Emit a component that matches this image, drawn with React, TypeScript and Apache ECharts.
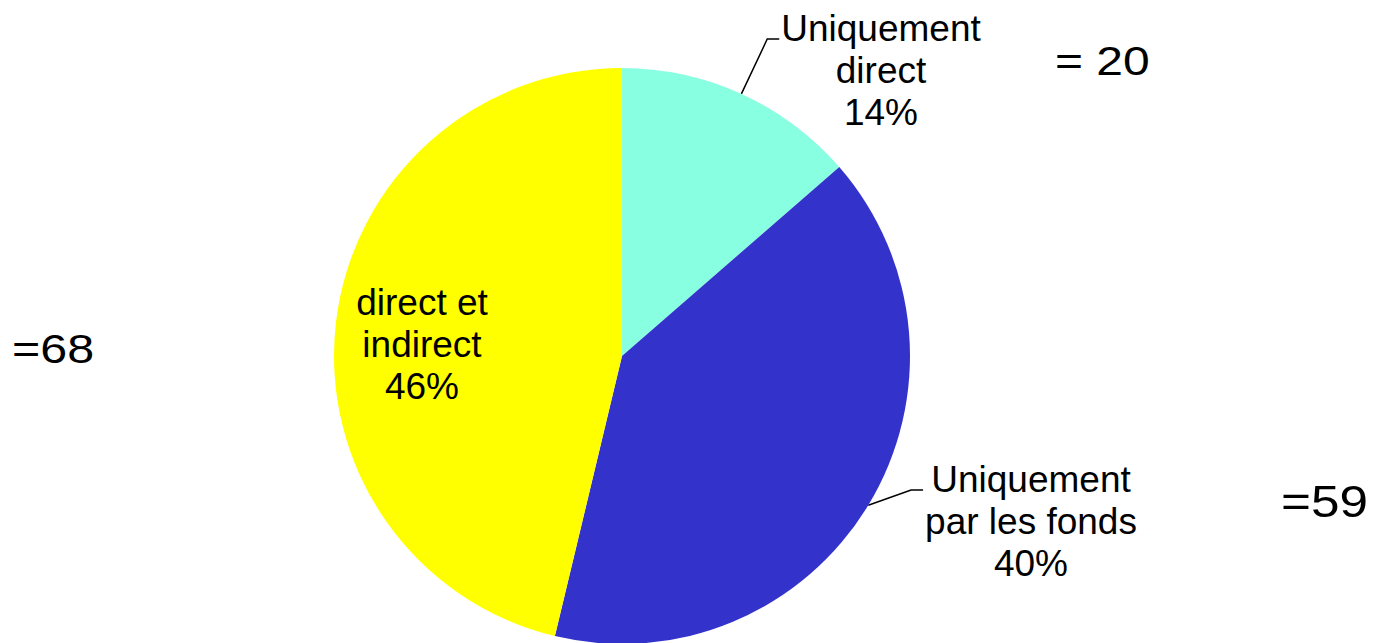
import React, { useEffect, useRef } from 'react';
import * as echarts from 'echarts';

const categories = ['Uniquement\ndirect', 'Uniquement\npar les fonds', 'direct et\nindirect'];
const values = [20, 59, 68];
const countLabels = ['= 20', '=59', '=68'];
const colors = ['#88FFE0', '#3333CC', '#FFFF00'];

const FONT = "'Liberation Sans', Arial, Helvetica, sans-serif";

export default function App() {
  const ref = useRef<HTMLDivElement>(null);

  useEffect(() => {
    const chart = echarts.init(ref.current!, null, { renderer: 'svg' });
    const labelCenters = [
      [881, 70],
      [1031, 521],
      [422, 344],
    ];
    const lineH = 42;
    const countPlacement = [
      { x: 1055, y: 60.5, size: 41, sx: 1.17 },
      { x: 1281, y: 501.5, size: 45, sx: 1.14 },
      { x: 12, y: 348.5, size: 41, sx: 1.18 },
    ];

    chart.setOption({
      animation: false,
      backgroundColor: '#ffffff',
      series: [
        {
          type: 'pie',
          center: [622, 356],
          radius: 288,
          startAngle: 90,
          clockwise: true,
          avoidLabelOverlap: false,
          percentPrecision: 0,
          itemStyle: { borderWidth: 0 },
          emphasis: { disabled: true },
          data: categories.map((name, i) => ({
            name,
            value: values[i],
            itemStyle: { color: colors[i] },
            label: { position: i === 2 ? 'inside' : 'outside' },
            labelLine: { show: i !== 2 },
          })),
          label: {
            formatter: '{b}\n{d}%',
            fontSize: 37,
            lineHeight: lineH,
            color: '#000',
            fontFamily: FONT,
            align: 'center',
          },
          labelLine: {
            lineStyle: { color: '#000', width: 1.5 },
            length: 60,
            length2: 10,
          },
          labelLayout: (p: any) => {
            const [cx, cy] = labelCenters[p.dataIndex];
            const res: any = { x: cx, y: cy, align: 'center', verticalAlign: 'middle' };
            if (p.labelLinePoints && p.dataIndex !== 2) {
              const left = cx - p.labelRect.width / 2 - 2;
              const by = cy - lineH + 11;
              res.labelLinePoints = [p.labelLinePoints[0], [left - 12, by], [left, by]];
            }
            return res;
          },
        },
      ],
      graphic: countLabels.map((t, i) => ({
        type: 'text',
        x: countPlacement[i].x,
        y: countPlacement[i].y,
        scaleX: countPlacement[i].sx,
        style: {
          text: t,
          fontSize: countPlacement[i].size,
          fontFamily: FONT,
          fill: '#000',
          align: 'left',
          verticalAlign: 'middle',
        },
      })),
    });

    return () => chart.dispose();
  }, []);

  return (
    <div
      ref={ref}
      style={{ position: 'fixed', left: 0, top: 0, width: 1374, height: 643 }}
    />
  );
}
